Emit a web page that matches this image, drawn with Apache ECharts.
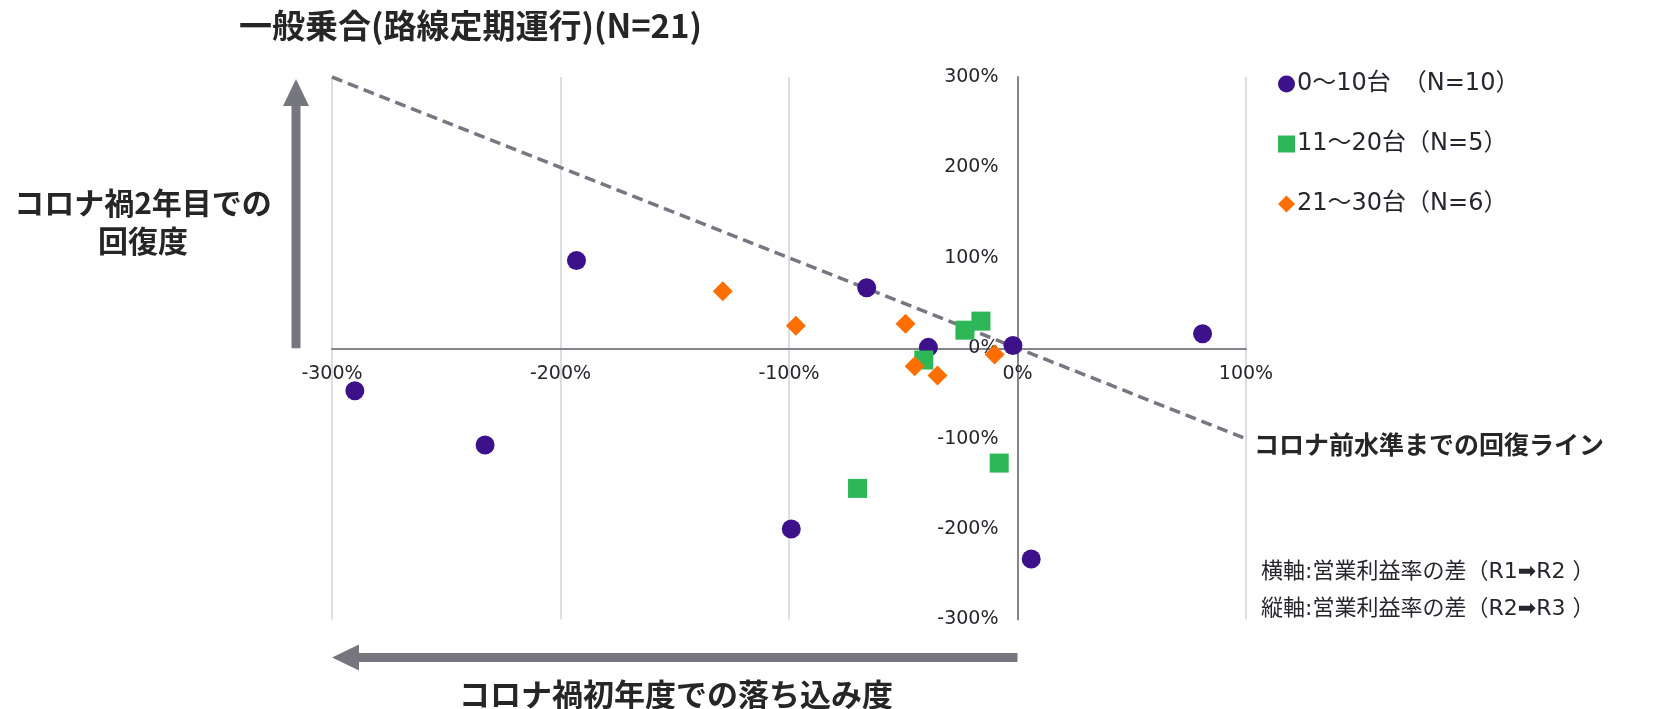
<!DOCTYPE html>
<html>
<head>
<meta charset="utf-8">
<script src="https://cdn.jsdelivr.net/npm/echarts@6/dist/echarts.min.js"></script>
<style>
  html, body { margin: 0; padding: 0; background: #ffffff; }
  #chart { width: 1657px; height: 709px; }
</style>
</head>
<body>
<div id="chart"></div>
<script>
// Scatter of operating-margin change: first COVID year (x) vs second year (y)
const seriesNames = ['0～10台　（N=10）', '11～20台（N=5）', '21～30台（N=6）'];

// 0～10台
const smallX = [-290, -233, -193, -99, -66, -39, -2, 6, 81];
const smallY = [-47, -107, 97, -200, 67, 1, 3, -233, 16];
// 11～20台
const midX = [-23, -16, -41, -8, -70];
const midY = [20, 30, -13, -127, -155];
// 21～30台
const largeX = [-129, -97, -49, -45, -35, -10];
const largeY = [63, 25, 27, -20, -30, -7];

// Line of full recovery to pre-COVID level (y = -x)
const recoveryX = [-300, 100];
const recoveryY = [300, -100];

const xTicks = { min: -300, max: 100, interval: 100 };
const yTicks = { min: -300, max: 300, interval: 100 };

const colors = ['#3d1189', '#2db757', '#ff6e00'];
const labelFont = "'DejaVu Sans', 'Noto Sans CJK JP', sans-serif";
const jpFont = "'Noto Sans CJK JP', sans-serif";
const textColor = '#26262e';
const arrowColor = '#76767f';
const axisColor = '#85858f';

function zip(xs, ys) { return xs.map((x, i) => [x, ys[i]]); }
const pct = v => v + '%';

const chart = echarts.init(document.getElementById('chart'), null, { renderer: 'canvas' });

const option = {
  animation: false,
  backgroundColor: '#ffffff',
  title: {
    text: '一般乗合(路線定期運行)(N=21)',
    left: 234,
    top: 4,
    textStyle: { fontFamily: jpFont, fontSize: 33, fontWeight: 'bold', color: '#262626' }
  },
  legend: {
    orient: 'vertical',
    left: 1273,
    top: 67,
    itemWidth: 17,
    itemHeight: 17,
    itemGap: 36,
    data: [
      { name: seriesNames[0], icon: 'circle' },
      { name: seriesNames[1], icon: 'rect' },
      { name: seriesNames[2], icon: 'diamond' }
    ],
    textStyle: { fontFamily: labelFont, fontSize: 24, color: textColor, padding: [0, 0, 0, -3] }
  },
  grid: { left: 332, right: 411, top: 77, bottom: 89.5, containLabel: false },
  xAxis: {
    type: 'value',
    position: 'bottom',
    min: xTicks.min, max: xTicks.max, interval: xTicks.interval,
    axisLine: { onZero: false, lineStyle: { color: axisColor, width: 2 } },
    axisTick: { show: false },
    splitLine: { show: true, lineStyle: { color: '#d2d2db', width: 1.5 } },
    axisLabel: { formatter: pct, fontFamily: labelFont, fontSize: 19, color: textColor, margin: 16 }
  },
  yAxis: {
    type: 'value',
    position: 'left',
    min: yTicks.min, max: yTicks.max, interval: yTicks.interval,
    axisLine: { onZero: false, lineStyle: { color: axisColor, width: 2 } },
    axisTick: { show: false },
    splitLine: { show: false },
    axisLabel: { formatter: pct, fontFamily: labelFont, fontSize: 19, color: textColor, margin: 19 }
  },
  series: [
    {
      name: 'recovery',
      type: 'line',
      data: zip(recoveryX, recoveryY),
      symbol: 'none',
      silent: true,
      lineStyle: { color: '#777782', width: 3.5, type: [11, 6] },
      endLabel: {
        show: true,
        formatter: 'コロナ前水準までの回復ライン',
        fontFamily: jpFont, fontSize: 25, fontWeight: 'bold', color: '#262626',
        distance: 8, offset: [0, 6]
      },
      z: 1
    },
    {
      name: seriesNames[0], type: 'scatter', symbol: 'circle', symbolSize: 19,
      itemStyle: { color: colors[0], opacity: 1 }, data: zip(smallX, smallY), z: 3
    },
    {
      name: seriesNames[1], type: 'scatter', symbol: 'rect', symbolSize: 19,
      itemStyle: { color: colors[1], opacity: 1 }, data: zip(midX, midY), z: 4
    },
    {
      name: seriesNames[2], type: 'scatter', symbol: 'diamond', symbolSize: 20,
      itemStyle: { color: colors[2], opacity: 1 }, data: zip(largeX, largeY), z: 5
    }
  ]
};

chart.setOption(option);

// Pixel positions of the grid edges and of the zero point
const origin = chart.convertToPixel({ gridIndex: 0 }, [0, 0]);
const corner = chart.convertToPixel({ gridIndex: 0 }, [xTicks.min, yTicks.max]);
const bottomPx = chart.convertToPixel({ gridIndex: 0 }, [0, yTicks.min])[1];

// Move both axes (line and labels) onto the zero crossing
chart.setOption({
  xAxis: { offset: -(bottomPx - origin[1]) },
  yAxis: { offset: -(origin[0] - corner[0]) }
});

const shaft = 9, headW = 26, headL = 27;
const vx = corner[0] - 36;
const hy = bottomPx + 38;

function vArrow(x, yFrom, yTo) {
  return {
    type: 'polygon',
    shape: {
      points: [
        [x - shaft / 2, yFrom], [x + shaft / 2, yFrom],
        [x + shaft / 2, yTo + headL], [x + headW / 2, yTo + headL],
        [x, yTo], [x - headW / 2, yTo + headL], [x - shaft / 2, yTo + headL]
      ]
    },
    style: { fill: arrowColor }
  };
}
function hArrow(y, xFrom, xTo) {
  return {
    type: 'polygon',
    shape: {
      points: [
        [xFrom, y - shaft / 2], [xFrom, y + shaft / 2],
        [xTo + headL, y + shaft / 2], [xTo + headL, y + headW / 2],
        [xTo, y], [xTo + headL, y - headW / 2], [xTo + headL, y - shaft / 2]
      ]
    },
    style: { fill: arrowColor }
  };
}

chart.setOption({
  graphic: [
    vArrow(vx, origin[1], corner[1] + 2),
    hArrow(hy, origin[0], corner[0]),
    {
      type: 'text', x: 143, y: 222,
      style: {
        text: 'コロナ禍2年目での\n回復度',
        fontFamily: jpFont, fontSize: 30, fontWeight: 'bold', fill: '#262626',
        align: 'center', verticalAlign: 'middle', lineHeight: 38
      }
    },
    {
      type: 'text', x: 676, y: 694,
      style: {
        text: 'コロナ禍初年度での落ち込み度',
        fontFamily: jpFont, fontSize: 31, fontWeight: 'bold', fill: '#262626',
        align: 'center', verticalAlign: 'middle'
      }
    },
    {
      type: 'text', x: 1261, y: 591,
      style: {
        text: '横軸:営業利益率の差（R1➡R2 ）\n縦軸:営業利益率の差（R2➡R3 ）',
        fontFamily: labelFont, fontSize: 22, fill: textColor,
        align: 'left', verticalAlign: 'middle', lineHeight: 37
      }
    }
  ]
});
</script>
</body>
</html>
